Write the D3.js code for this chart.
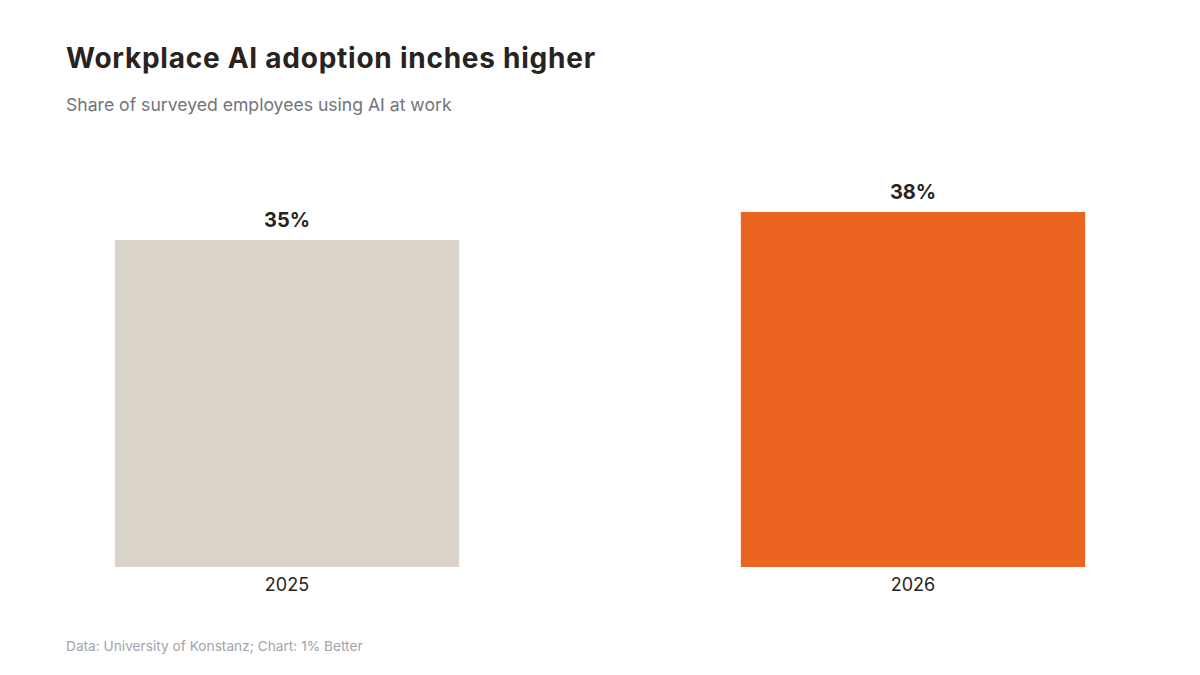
<!DOCTYPE html>
<html>
<head>
<meta charset="utf-8">
<script src="https://cdn.jsdelivr.net/npm/d3@7"></script>
<style>
  body { margin: 0; background: #fff; }
  svg { font-family: "Inter", "Lato", sans-serif; }
</style>
</head>
<body>
<div id="chart"></div>
<script>
const years = ['2025', '2026'];
const shares = [35, 38];
const barColors = ['#d9d3c9', '#ec6520'];

const W = 1200, H = 675;
const margin = { top: 212, right: 66, bottom: 108, left: 66 };
const baseY = H - margin.bottom;

const svg = d3.select('#chart')
  .append('svg')
  .attr('width', W)
  .attr('height', H);

svg.append('text')
  .attr('x', 66)
  .attr('y', 68)
  .style('font-size', '28px')
  .style('font-weight', 700)
  .style('letter-spacing', '0.75px')
  .style('fill', '#29231f')
  .text('Workplace AI adoption inches higher');

svg.append('text')
  .attr('x', 66)
  .attr('y', 111)
  .style('font-size', '17.6px')
  .style('fill', '#72737b')
  .text('Share of surveyed employees using AI at work');

const x = d3.scaleBand()
  .domain(years)
  .range([margin.left, W - margin.right])
  .paddingInner(0.45)
  .paddingOuter(0.078);

const y = d3.scaleLinear()
  .domain([0, d3.max(shares)])
  .range([baseY, margin.top]);

const data = years.map((yr, i) => ({ year: yr, value: shares[i], color: barColors[i] }));

const bars = svg.selectAll('.bar')
  .data(data)
  .enter()
  .append('g')
  .attr('class', 'bar');

bars.append('rect')
  .attr('x', d => x(d.year))
  .attr('y', d => y(d.value))
  .attr('width', x.bandwidth())
  .attr('height', d => y(0) - y(d.value))
  .style('fill', d => d.color);

bars.append('text')
  .attr('x', d => x(d.year) + x.bandwidth() / 2)
  .attr('y', d => y(d.value) - 13)
  .style('text-anchor', 'middle')
  .style('font-size', '20px')
  .style('font-weight', 700)
  .style('fill', '#29231f')
  .text(d => d.value + '%');

bars.append('text')
  .attr('x', d => x(d.year) + x.bandwidth() / 2)
  .attr('y', baseY + 24)
  .style('text-anchor', 'middle')
  .style('font-size', '18px')
  .style('fill', '#29231f')
  .text(d => d.year);

svg.append('text')
  .attr('x', 66)
  .attr('y', 651)
  .style('font-size', '13.7px')
  .style('fill', '#a3a3ab')
  .text('Data: University of Konstanz; Chart: 1% Better');
</script>
</body>
</html>
